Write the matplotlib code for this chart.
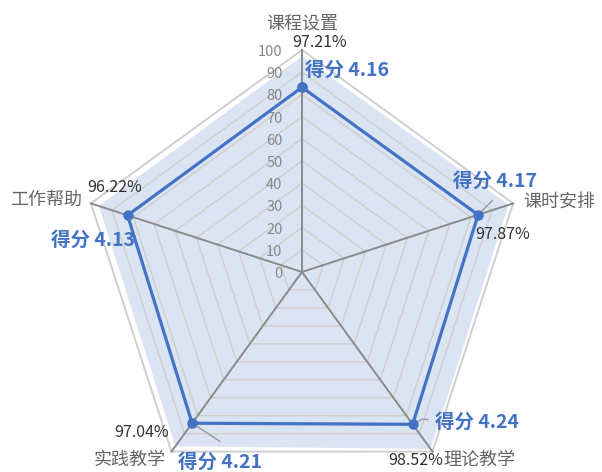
import numpy as np
import matplotlib
matplotlib.use('Agg')
import matplotlib.pyplot as plt

plt.rcParams['font.family'] = ['Noto Sans CJK SC', 'DejaVu Sans']

# ----------------------------------------------------------------------------------------------------------------
# data
# ----------------------------------------------------------------------------------------------------------------
items = ['课程设置', '课时安排', '理论教学', '实践教学', '工作帮助']
scores = [4.16, 4.17, 4.24, 4.21, 4.13]           # 5-point score
rates = [97.21, 97.87, 98.52, 97.04, 96.22]       # satisfaction rate, %
ticks = [0, 10, 20, 30, 40, 50, 60, 70, 80, 90, 100]
# ----------------------------------------------------------------------------------------------------------------

blue = '#4472C4'
W, H = 602, 472
cx, cy = 302, 272        # centre of radar, pixels from top-left
scl = 2.22               # pixels per unit of value

n = len(items)
ang = np.deg2rad(90 - 72*np.arange(n))   # clockwise from the top


def xy(vals):
    vals = np.asarray(vals, dtype=float)
    return vals*np.cos(ang), vals*np.sin(ang)


def closed(a):
    return np.append(a, a[0])


fig = plt.figure(figsize=(W/100, H/100), dpi=100)
ax = fig.add_axes([0, 0, 1, 1])
ax.set_xlim(-cx/scl, (W-cx)/scl)
ax.set_ylim(-(H-cy)/scl, cy/scl)
ax.axis('off')

# grid pentagons
for t in ticks[1:]:
    gx, gy = xy([t]*n)
    ax.plot(closed(gx), closed(gy), color='#cfcfcf', lw=1.1 if t < 100 else 1.4, zorder=2)

# radial axes
for a in ang:
    ax.plot([0, 100*np.cos(a)], [0, 100*np.sin(a)], color='#8a8a8a', lw=1.4, zorder=3)

# tick labels on the top axis
for t in ticks:
    ax.annotate(str(t), (0, t), xytext=(-14, -1.5), textcoords='offset points',
                ha='right', va='center', fontsize=10.5, color='#888888', zorder=4)

# rate area
rx, ry = xy(rates)
ax.fill(closed(rx), closed(ry), color=blue, alpha=0.19, lw=0, zorder=1)

# score line (score*20 to put on 0-100 scale)
sx, sy = xy(np.array(scores)*20)
ax.plot(closed(sx), closed(sy), color=blue, lw=2.3, marker='o', ms=6.5, zorder=5)

# label lines
lines = {1: [(0, 0), (10, 10)], 2: [(0, 0), (6.5, 3.5), (11, 3.5)], 3: [(0, 0), (20, -13)]}
for i, pts in lines.items():
    px = [sx[i] + p[0]/scl*100/72 for p in pts]
    py = [sy[i] + p[1]/scl*100/72 for p in pts]
    ax.plot(px, py, color='#999999', lw=1, zorder=4)

# score labels
s_off = [(2.5, 12, 'left'), (12, 24, 'center'), (16, 1.5, 'left'), (-10, -28, 'left'), (5.5, -18, 'right')]
for i in range(n):
    dx, dy, ha = s_off[i]
    ax.annotate('得分 %.2f' % scores[i], (sx[i], sy[i]), xytext=(dx, dy), textcoords='offset points',
                ha=ha, va='center', fontsize=14, fontweight='bold', color=blue, zorder=6)

# rate labels
r_off = [(13, 9.5), (-4, -21.5), (-11, -8), (-24, 10), (11.5, 13.5)]
for i in range(n):
    dx, dy = r_off[i]
    ax.annotate('%.2f%%' % rates[i], (rx[i], ry[i]), xytext=(dx, dy), textcoords='offset points',
                ha='center', va='center', fontsize=11.5, color='#333333', zorder=6)

# item names
nx, ny = xy([100]*n)
n_off = [(0.5, 18, 'center'), (7, 1, 'left'), (7.5, -6, 'left'), (-4.5, -6, 'right'), (-6.5, 2.5, 'right')]
for i in range(n):
    dx, dy, ha = n_off[i]
    ax.annotate(items[i], (nx[i], ny[i]), xytext=(dx, dy), textcoords='offset points',
                ha=ha, va='center', fontsize=13, color='#666666', zorder=6)

fig.savefig('out.png', dpi=100)
